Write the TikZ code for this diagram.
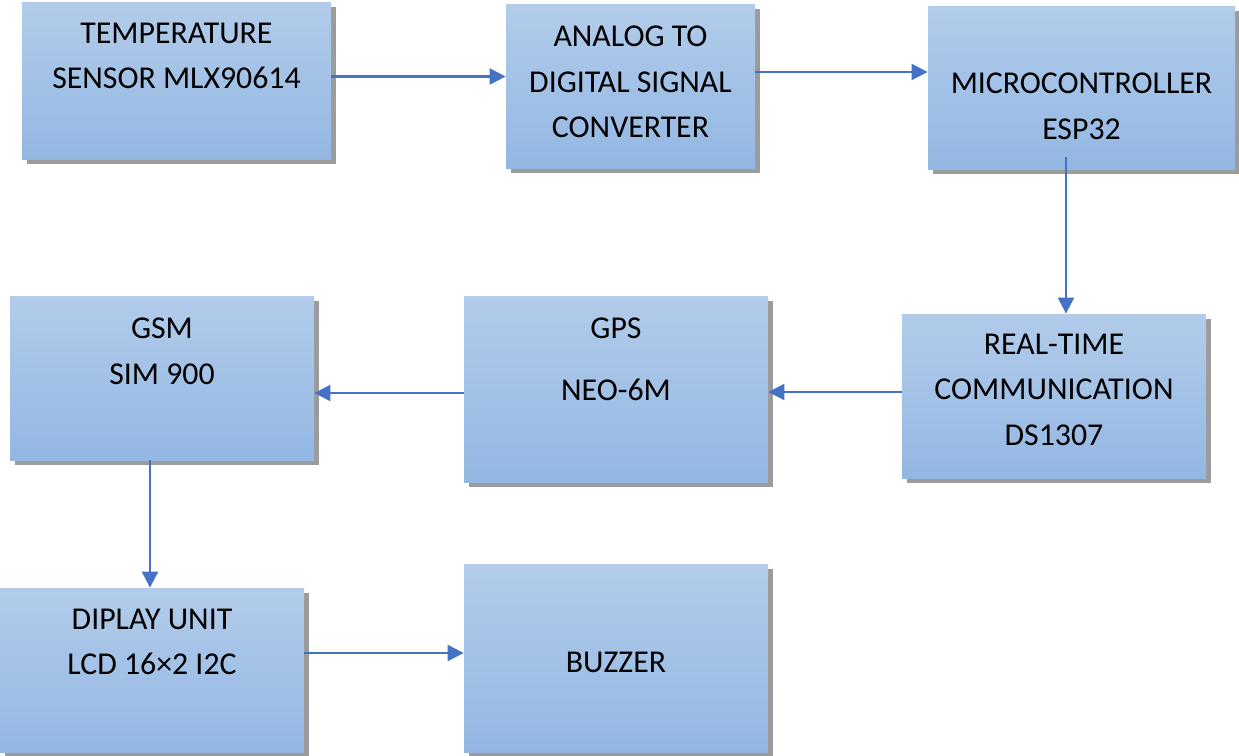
\documentclass[tikz,border=0pt]{standalone}
\usepackage{fontspec}
\setmainfont{Carlito}
\usepackage{tikz}
\usetikzlibrary{arrows.meta,shadows}
\definecolor{blocktop}{HTML}{B2CCEA}
\definecolor{blockbottom}{HTML}{93B7E3}
\definecolor{blockshadow}{HTML}{9B9B9B}
\definecolor{flowcolor}{HTML}{4472C4}
\tikzset{
  unit block/.style={rectangle,inner sep=0pt,top color=blocktop,bottom color=blockbottom,
    drop shadow={shadow xshift=2.5pt,shadow yshift=-2.5pt,fill=blockshadow,opacity=1}},
  unit text/.style={anchor=north,align=center,inner sep=0pt,font=\fontsize{15.9}{22.75}\selectfont},
  unit flow/.style={flowcolor,line width=1.1pt,-{Triangle[length=8pt,width=8pt]}}
}

\begin{document}
\begin{tikzpicture}[x=0.5pt,y=-0.5pt]
  \useasboundingbox (0,0) rectangle (1239,756);
  % top row
  \node[unit block,minimum width=154.5pt,minimum height=78.5pt,
    label={[unit text,yshift=-10.5pt]north:{TEMPERATURE\\SENSOR MLX90614}}] (sensor) at (176.5,80.5) {};
  \node[unit block,minimum width=124.5pt,minimum height=82pt,
    label={[unit text,yshift=-11pt]north:{ANALOG TO\\DIGITAL SIGNAL\\CONVERTER}}] (adc) at (630.5,86) {};
  \node[unit block,minimum width=153.5pt,minimum height=81.5pt,
    label={[unit text,yshift=-33.5pt]north:{MICROCONTROLLER\\ESP32}}] (mcu) at (1081.5,87.5) {};
  % middle row
  \node[unit block,minimum width=152pt,minimum height=82pt,
    label={[unit text,yshift=-10pt]north:{REAL-TIME\\COMMUNICATION\\DS1307}}] (rtc) at (1054,396) {};
  \node[unit block,minimum width=152pt,minimum height=93pt,
    label={[unit text,yshift=-11pt]north:{GPS\\[8pt]NEO-6M}}] (gps) at (616,389) {};
  \node[unit block,minimum width=152pt,minimum height=82pt,
    label={[unit text,yshift=-11pt]north:{GSM\\SIM 900}}] (gsm) at (162,378) {};
  % bottom row
  \node[unit block,minimum width=152pt,minimum height=82pt,
    label={[unit text,yshift=-10.5pt]north:{DIPLAY UNIT\\LCD 16×2 I2C}}] (lcd) at (152,670) {};
  \node[unit block,minimum width=152pt,minimum height=94pt,
    label={[unit text,yshift=-44pt]north:{BUZZER}}] (buzzer) at (616,658) {};
  % connectors
  \draw[unit flow] ([yshift=2pt]sensor.east) -- ([yshift=2pt]sensor.east -| adc.west);
  \draw[unit flow] ([yshift=7pt]adc.east) -- ([yshift=7pt]adc.east -| mcu.west);
  \draw[unit flow] ([xshift=-7.75pt,yshift=6pt]mcu.south) -- ([xshift=-7.75pt]mcu.south |- rtc.north);
  \draw[unit flow] ([yshift=2pt]rtc.west) -- ([yshift=2pt]rtc.west -| gps.east);
  \draw[unit flow] ([yshift=-2pt]gps.west) -- ([yshift=-2pt]gps.west -| gsm.east);
  \draw[unit flow] ([xshift=-6pt]gsm.south) -- ([xshift=-6pt]gsm.south |- lcd.north);
  \draw[unit flow] ([yshift=8.5pt]lcd.east) -- ([yshift=8.5pt]lcd.east -| buzzer.west);
\end{tikzpicture}
\end{document}
